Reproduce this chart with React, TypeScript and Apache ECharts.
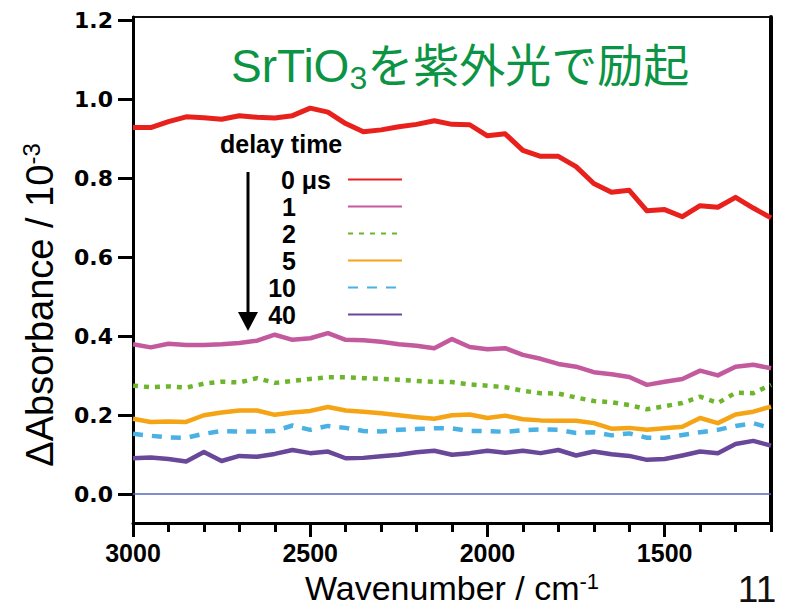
import React, { useEffect, useRef } from 'react';
import * as echarts from 'echarts';

const wavenumbers = [3000, 2950, 2900, 2850, 2800, 2750, 2700, 2650, 2600, 2550, 2500, 2450, 2400, 2350, 2300, 2250, 2200, 2150, 2100, 2050, 2000, 1950, 1900, 1850, 1800, 1750, 1700, 1650, 1600, 1550, 1500, 1450, 1400, 1350, 1300, 1250, 1200];

const delay0us = [0.929, 0.929, 0.944, 0.956, 0.954, 0.950, 0.959, 0.955, 0.953, 0.959, 0.978, 0.968, 0.939, 0.918, 0.923, 0.931, 0.937, 0.946, 0.937, 0.936, 0.908, 0.913, 0.871, 0.856, 0.856, 0.830, 0.787, 0.765, 0.770, 0.718, 0.721, 0.703, 0.731, 0.727, 0.752, 0.725, 0.700];
const delay1us = [0.380, 0.372, 0.381, 0.378, 0.378, 0.380, 0.383, 0.389, 0.404, 0.391, 0.395, 0.408, 0.391, 0.390, 0.386, 0.380, 0.376, 0.370, 0.393, 0.373, 0.367, 0.370, 0.353, 0.343, 0.330, 0.323, 0.309, 0.304, 0.297, 0.277, 0.285, 0.292, 0.313, 0.301, 0.323, 0.328, 0.319];
const delay2us = [0.275, 0.271, 0.273, 0.270, 0.280, 0.285, 0.283, 0.294, 0.282, 0.287, 0.292, 0.296, 0.296, 0.294, 0.292, 0.290, 0.287, 0.285, 0.284, 0.278, 0.275, 0.271, 0.262, 0.256, 0.255, 0.245, 0.236, 0.233, 0.226, 0.215, 0.223, 0.231, 0.247, 0.231, 0.257, 0.256, 0.277];
const delay5us = [0.191, 0.183, 0.184, 0.183, 0.200, 0.207, 0.212, 0.212, 0.201, 0.207, 0.211, 0.221, 0.212, 0.209, 0.205, 0.200, 0.195, 0.191, 0.200, 0.202, 0.193, 0.199, 0.190, 0.187, 0.186, 0.186, 0.180, 0.166, 0.168, 0.163, 0.167, 0.171, 0.193, 0.180, 0.202, 0.209, 0.222];
const delay10us = [0.153, 0.148, 0.144, 0.143, 0.153, 0.160, 0.159, 0.159, 0.160, 0.174, 0.163, 0.173, 0.168, 0.160, 0.159, 0.163, 0.165, 0.167, 0.167, 0.160, 0.160, 0.158, 0.162, 0.164, 0.163, 0.155, 0.157, 0.149, 0.154, 0.143, 0.143, 0.150, 0.157, 0.163, 0.173, 0.180, 0.167];
const delay40us = [0.091, 0.093, 0.089, 0.083, 0.107, 0.084, 0.097, 0.095, 0.102, 0.112, 0.104, 0.108, 0.091, 0.092, 0.096, 0.100, 0.106, 0.110, 0.100, 0.104, 0.110, 0.105, 0.110, 0.104, 0.112, 0.098, 0.108, 0.101, 0.097, 0.087, 0.089, 0.098, 0.108, 0.104, 0.127, 0.135, 0.123];

const seriesNames = ['0 μs', '1', '2', '5', '10', '40'];
const seriesValues = [delay0us, delay1us, delay2us, delay5us, delay10us, delay40us];
const xLabelValues = [3000, 2500, 2000, 1500];
const yTickValues = [0, 0.2, 0.4, 0.6, 0.8, 1.0, 1.2];

const lineStyles = [
  { color: '#e8211d', width: 5, type: 'solid' as any },
  { color: '#c45a9e', width: 4.5, type: 'solid' as any },
  { color: '#6db52d', width: 4.5, type: [5, 6] as any },
  { color: '#f5a416', width: 4.5, type: 'solid' as any },
  { color: '#49b1e4', width: 4.5, type: [10, 9] as any },
  { color: '#694799', width: 4.5, type: 'solid' as any },
];

const LAT = '"Liberation Sans", Arial, sans-serif';

export default function App() {
  const ref = useRef<HTMLDivElement>(null);
  useEffect(() => {
    const chart = echarts.init(ref.current!, null, { renderer: 'svg' });
    const series: any[] = seriesNames.map((name, i) => ({
      name,
      type: 'line',
      data: wavenumbers.map((w, j) => [w, seriesValues[i][j]]),
      symbol: 'none',
      showSymbol: false,
      smooth: false,
      lineStyle: { ...lineStyles[i], join: 'round' },
      itemStyle: { color: lineStyles[i].color },
      z: 3,
      markLine: i === 0 ? {
        silent: true,
        symbol: ['none', 'none'],
        label: { show: false },
        lineStyle: { color: '#5566c0', width: 1.5, type: 'solid' },
        data: [{ yAxis: 0 }],
        z: 2,
      } : undefined,
    }));

    const legendText = { fontSize: 25, fontWeight: 'bold', color: '#000', fontFamily: LAT, lineHeight: 27 };

    const option: any = {
      animation: false,
      backgroundColor: '#fff',
      textStyle: { fontFamily: LAT },
      title: {
        text: '{a|SrTiO}{s|3}{a|を紫外光で励起}',
        left: 231,
        top: 38,
        padding: 0,
        textStyle: {
          fontWeight: 'normal',
          rich: {
            a: { fontSize: 46, fontWeight: 'normal', fontFamily: '"Liberation Sans", "Noto Sans CJK JP", sans-serif', color: '#0b9444', lineHeight: 56 },
            s: { fontSize: 32, fontWeight: 'normal', fontFamily: '"Liberation Sans", sans-serif', color: '#0b9444', lineHeight: 22, verticalAlign: 'bottom' },
          },
        },
      },
      legend: {
        orient: 'vertical',
        right: 385,
        top: 166,
        padding: 0,
        align: 'right',
        itemWidth: 54,
        itemHeight: 27,
        itemGap: 0,
        selectedMode: false,
        itemStyle: { opacity: 0 },
        data: seriesNames,
        formatter: (name: string) => {
          const parts = name.split(' ');
          return parts.length > 1 ? `{n|${parts[0]}}{u| ${parts[1]}}` : `{n|${name}}{p| }`;
        },
        textStyle: {
          ...legendText,
          rich: {
            n: { ...legendText },
            u: { ...legendText, padding: [0, 12, 0, 0] },
            p: { ...legendText, width: 47 },
          },
        },
      },
      grid: {
        left: 133, right: 17, top: 17, bottom: 85,
        outerBoundsMode: 'none',
        containLabel: false,
        show: true, borderColor: '#111', borderWidth: 2, backgroundColor: 'transparent',
      },
      xAxis: [
        {
          type: 'value', inverse: true, min: 1200, max: 3000, interval: 100,
          position: 'bottom',
          name: '{a|Wavenumber / cm}{s|-1}',
          nameLocation: 'middle',
          nameGap: 46,
          nameTextStyle: {
            rich: {
              a: { fontSize: 34, fontFamily: LAT, color: '#000', lineHeight: 36 },
              s: { fontSize: 22, fontFamily: LAT, color: '#000', lineHeight: 22, verticalAlign: 'top' },
            },
          },
          axisLine: { show: true, onZero: false, lineStyle: { color: '#000', width: 3 } },
          axisTick: { show: true, length: 9, lineStyle: { color: '#000', width: 3 } },
          axisLabel: {
            customValues: xLabelValues,
            margin: 18,
            fontSize: 25, fontWeight: 'bold', color: '#000', fontFamily: LAT, lineHeight: 24,
            formatter: (v: number) => String(v),
          },
          splitLine: { show: false },
        },
        {
          type: 'value', inverse: true, min: 1200, max: 3000,
          position: 'bottom',
          axisLine: { show: false, onZero: false },
          axisTick: { show: true, length: 14, customValues: xLabelValues, lineStyle: { color: '#000', width: 3 } },
          axisLabel: { show: false },
          splitLine: { show: false },
        },
      ],
      yAxis: [
        {
          type: 'value', min: -0.073, max: 1.209,
          position: 'left',
          name: '{a|ΔAbsorbance / 10}{s|-3}',
          nameLocation: 'middle',
          nameGap: 72,
          nameRotate: 90,
          nameTextStyle: {
            padding: [0, 70, 0, 0],
            rich: {
              a: { fontSize: 38, fontFamily: LAT, color: '#000', lineHeight: 42 },
              s: { fontSize: 24, fontFamily: LAT, color: '#000', lineHeight: 24, verticalAlign: 'top' },
            },
          },
          axisLine: { show: true, onZero: false, lineStyle: { color: '#000', width: 3 } },
          axisTick: { show: true, length: 15, customValues: yTickValues, lineStyle: { color: '#000', width: 3 } },
          axisLabel: {
            customValues: yTickValues,
            margin: 20,
            fontSize: 22, fontWeight: 'bold', color: '#000', fontFamily: '"DejaVu Sans", sans-serif',
            formatter: (v: number) => v.toFixed(1),
          },
          splitLine: { show: false },
        },
        {
          type: 'value', min: -0.073, max: 1.209,
          position: 'right',
          axisLine: { show: true, onZero: false, lineStyle: { color: '#000', width: 4 } },
          axisTick: { show: false },
          axisLabel: { show: false },
          splitLine: { show: false },
        },
      ],
      graphic: [
        {
          type: 'text', x: 220, y: 144,
          style: { text: 'delay time', font: `bold 25px ${LAT}`, fill: '#000', verticalAlign: 'middle', align: 'left' },
        },
        {
          type: 'line', shape: { x1: 248, y1: 172, x2: 248, y2: 316 },
          style: { stroke: '#000', lineWidth: 3 },
        },
        {
          type: 'polygon', shape: { points: [[238, 312], [258, 312], [248, 331]] },
          style: { fill: '#000' },
        },
        {
          type: 'text', x: 757, y: 589,
          style: { text: '11', font: `37px ${LAT}`, fill: '#111', align: 'center', verticalAlign: 'middle', lineHeight: 36 },
        },
      ],
      series,
    };
    chart.setOption(option);
    return () => chart.dispose();
  }, []);
  return <div ref={ref} style={{ position: 'fixed', left: 0, top: 0, width: 788, height: 608, background: '#fff' }} />;
}
